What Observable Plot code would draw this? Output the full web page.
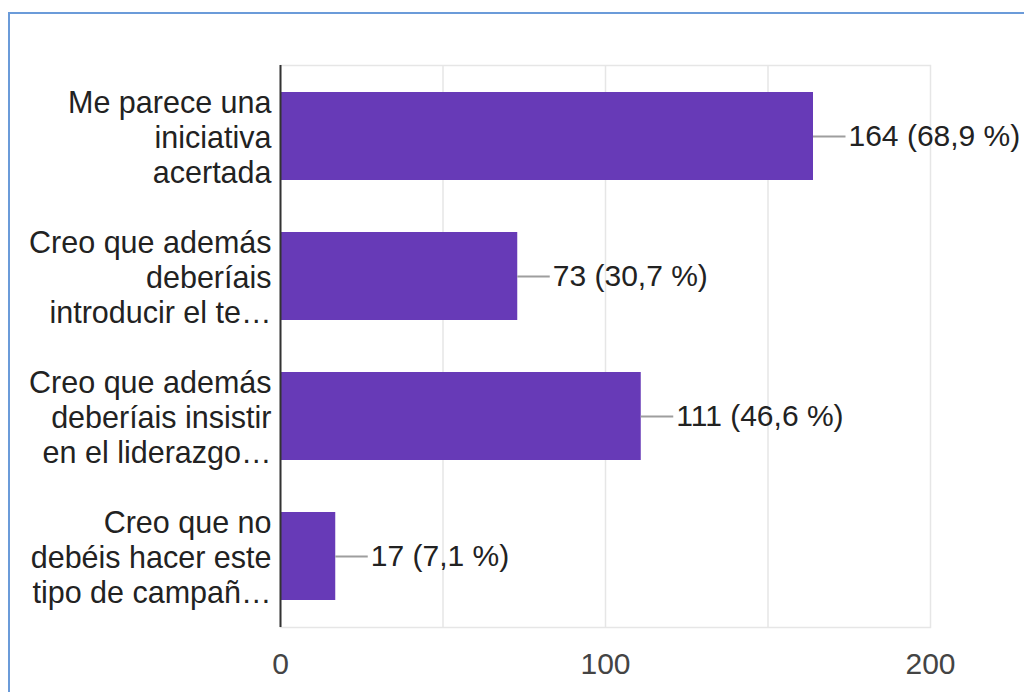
<!DOCTYPE html>
<html>
<head>
<meta charset="utf-8">
<script src="https://cdn.jsdelivr.net/npm/d3@7"></script>
<script src="https://cdn.jsdelivr.net/npm/@observablehq/plot@0.6"></script>
<style>
  html, body { margin: 0; padding: 0; background: #fff; overflow: hidden; }
  #wrap { position: relative; width: 1024px; height: 692px; }
  #border { position: absolute; left: 8px; top: 12px; right: -10px; bottom: -10px;
            border-top: 2px solid #6b9bd9; border-left: 2px solid #6b9bd9; pointer-events: none; }
  #chart { position: absolute; left: 0; top: 0; }
</style>
</head>
<body>
<div id="wrap"><div id="chart"></div><div id="border"></div></div>
<script>
const categories = [
  "Me parece una\niniciativa\nacertada",
  "Creo que además\ndeberíais\nintroducir el te…",
  "Creo que además\ndeberíais insistir\nen el liderazgo…",
  "Creo que no\ndebéis hacer este\ntipo de campañ…"
];
const counts = [164, 73, 111, 17];
const percents = ["68,9", "30,7", "46,6", "7,1"];
const xTicks = [0, 100, 200];
const gridTicks = [50, 100, 150];

const data = categories.map((c, i) => ({label: c, value: counts[i], pct: percents[i]}));
const font = "'Liberation Sans', Arial, sans-serif";

const chart = Plot.plot({
  width: 1024,
  height: 692,
  marginLeft: 280,
  marginRight: 94,
  marginTop: 65,
  marginBottom: 65,
  style: {fontFamily: font, background: "transparent"},
  x: {domain: [0, 200], axis: null},
  y: {domain: categories, paddingInner: 0.375, paddingOuter: 0.1875, axis: null},
  marks: [
    Plot.gridX(gridTicks, {stroke: "#e6e6e6", strokeOpacity: 1, strokeWidth: 1.5}),
    Plot.frame({stroke: "#e6e6e6", strokeWidth: 1.5}),
    Plot.barX(data, {x: "value", y: "label", fill: "#673ab7"}),
    Plot.ruleX([0], {stroke: "#333", strokeWidth: 2}),
    Plot.ruleY(data, {y: "label", x1: "value", x2: d => d.value + 10, stroke: "#9e9e9e", strokeWidth: 2}),
    Plot.text(data, {x: "value", y: "label", text: d => `${d.value} (${d.pct} %)`, dx: 35,
      textAnchor: "start", fontSize: 30, fill: "#222", fontFamily: font}),
    Plot.axisY({domain: categories, label: null, tickSize: 0, tickPadding: 9, fontSize: 30.5, lineHeight: 1.15,
      fill: "#222", textAnchor: "end", fontFamily: font}),
    Plot.axisX({ticks: xTicks, label: null, tickSize: 0, tickPadding: 25, fontSize: 30, fill: "#444", fontFamily: font})
  ]
});
document.getElementById("chart").appendChild(chart);
</script>
</body>
</html>
